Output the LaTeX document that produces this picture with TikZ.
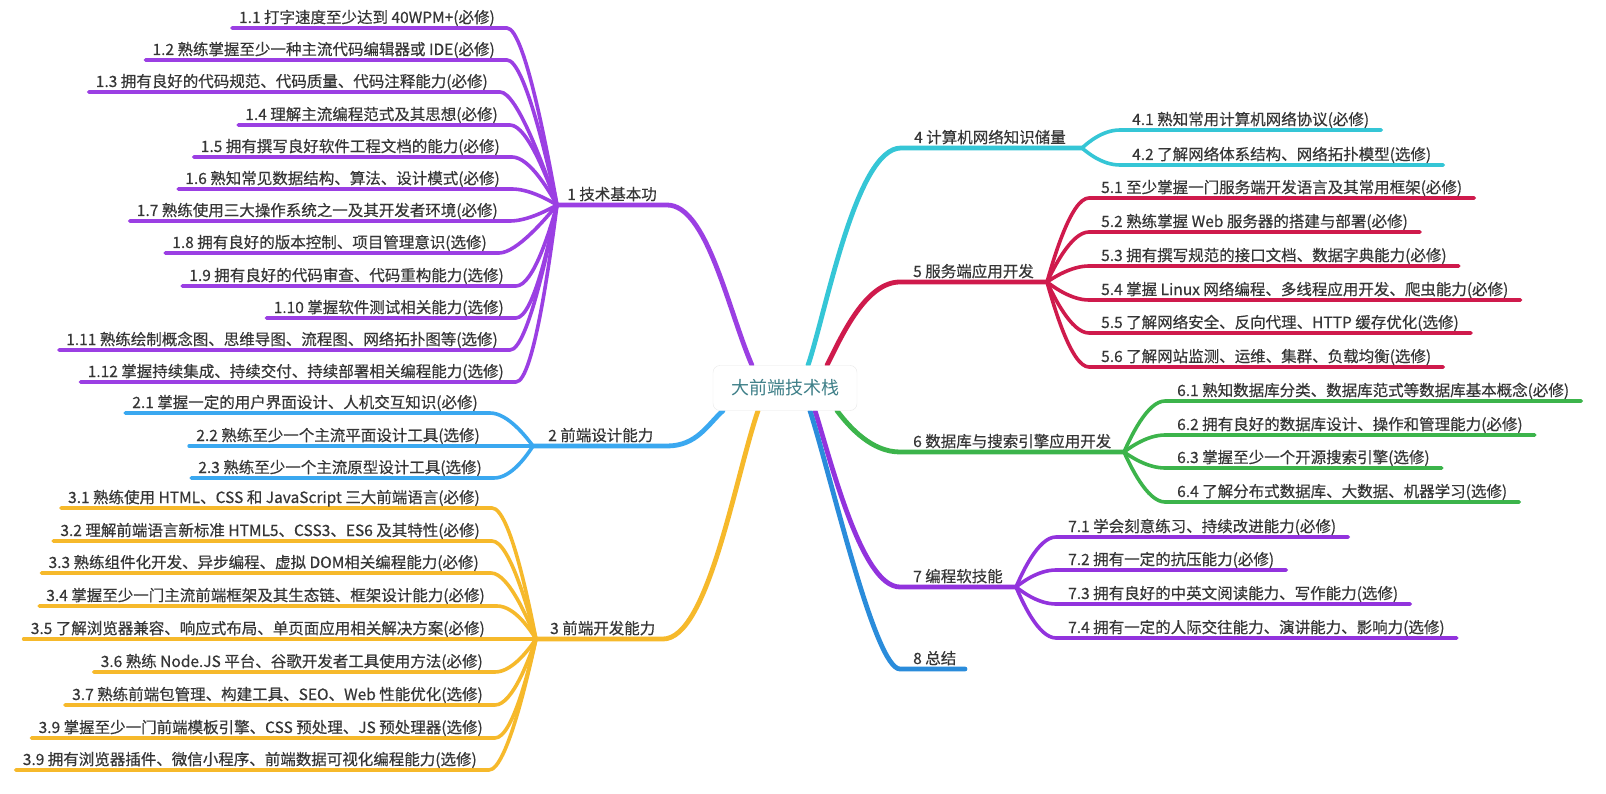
\documentclass[tikz,border=0pt]{standalone}
\usepackage{fontspec}
\setmainfont{Noto Sans CJK SC}
\newfontfamily\medf{Noto Sans CJK SC}[FakeBold=0.4]
\usetikzlibrary{calc}
\pgfdeclarelayer{bg}
\pgfsetlayers{bg,main}
\definecolor{cA}{HTML}{9B3FE3}
\definecolor{cB}{HTML}{3AA8F0}
\definecolor{cC}{HTML}{F6B92B}
\definecolor{cD}{HTML}{35C6D6}
\definecolor{cE}{HTML}{CF1A4C}
\definecolor{cF}{HTML}{3CB44B}
\definecolor{cG}{HTML}{9233DD}
\definecolor{cH}{HTML}{2A8CDB}
\definecolor{txt}{HTML}{363636}
\definecolor{ctr}{HTML}{3E7F88}
\tikzset{
  leaf/.style={inner sep=0pt, font=\medf\fontsize{15.5}{18}\selectfont, text=txt},
  brline/.style={line width=4.8pt, line cap=round, line join=round},
  lfline/.style={line width=3.6pt, line cap=round, line join=round},
}
% left leaf: name, underline y, text right x, hub, colour, text
\newcommand{\leafL}[6]{%
  \node[leaf, anchor=base east] (#1) at (#3,#2-5) {#6};
  \begin{pgfonlayer}{bg}
  \draw[lfline, #5] ($(#1.base west)+(-7,5)$) -- (#3+12,#2)
     .. controls (#3+30,#2) and ($(#4)!0.25!(#3+30,#2)$) .. (#4);
  \end{pgfonlayer}
}
% right leaf: name, underline y, text left x, hub, colour, text
\newcommand{\leafR}[6]{%
  \node[leaf, anchor=base west] (#1) at (#3,#2-5) {#6};
  \begin{pgfonlayer}{bg}
  \draw[lfline, #5] (#4) .. controls ($(#4)!0.25!(#3-30,#2)$) and (#3-30,#2)
     .. (#3-12,#2) -- ($(#1.base east)+(12,5)$);
  \end{pgfonlayer}
}
\begin{document}
\begin{tikzpicture}[x=1pt,y=-1pt]
\begin{pgfonlayer}{bg}
\fill[white] (0,0) rectangle (1606,794);
\end{pgfonlayer}
\useasboundingbox (0,0) rectangle (1606,794);

% centre
\node[draw=black!9, fill=white, rounded corners=7pt, minimum width=144pt,
      minimum height=45pt, inner sep=0pt, font=\fontsize{18}{20}\selectfont,
      text=ctr] (c) at (785,388) {大前端技术栈};
\coordinate (p1) at ($(c.north)+(-33,0)$);
\coordinate (p4) at ($(c.north)+(23,0)$);
\coordinate (p5) at ($(c.north)+(42,0)$);
\coordinate (p2) at ($(c.south)+(-62,0)$);
\coordinate (p3) at ($(c.south)+(-27,0)$);
\coordinate (p6) at ($(c.south)+(52,0)$);
\coordinate (p7) at ($(c.south)+(30,0)$);
\coordinate (p8) at ($(c.south)+(25,0)$);

% hubs and branch ends
\coordinate (h1) at (557,205); \coordinate (l1) at (667,205);
\coordinate (h2) at (533,446); \coordinate (l2) at (667,446);
\coordinate (h3) at (536,639); \coordinate (l3) at (663,639);
\coordinate (h4) at (1082,148); \coordinate (l4) at (901,148);
\coordinate (h5) at (1047,282); \coordinate (l5) at (900,282);
\coordinate (h6) at (1124,452); \coordinate (l6) at (900,452);
\coordinate (h7) at (1016,587); \coordinate (l7) at (900,587);
\coordinate (e8) at (965,669); \coordinate (l8) at (900,669);

% branch labels
\node[leaf, anchor=base west] (b1) at (567,200) {1 技术基本功};
\node[leaf, anchor=base west] (b2) at (548,441) {2 前端设计能力};
\node[leaf, anchor=base west] (b3) at (550,634) {3 前端开发能力};
\node[leaf, anchor=base west] (b4) at (914,143) {4 计算机网络知识储量};
\node[leaf, anchor=base west] (b5) at (913,277) {5 服务端应用开发};
\node[leaf, anchor=base west] (b6) at (913,447) {6 数据库与搜索引擎应用开发};
\node[leaf, anchor=base west] (b7) at (913,582) {7 编程软技能};
\node[leaf, anchor=base west] (b8) at (913,664) {8 总结};

\begin{pgfonlayer}{bg}
\draw[brline, cA] (h1) -- (l1) .. controls (707,205) and (728,310) .. (p1);
\draw[brline, cB] (h2) -- (l2) .. controls (697,446) and (708,424) .. (p2);
\draw[brline, cC] (h3) -- (l3) .. controls (708,639) and (735,478) .. (p3);
\draw[brline, cD] (h4) -- (l4) .. controls (856,148) and (826,312) .. (p4);
\draw[brline, cE] (h5) -- (l5) .. controls (866,282) and (842,335) .. (p5);
\draw[brline, cF] (h6) -- (l6) .. controls (872,452) and (850,428) .. (p6);
\draw[brline, cG] (h7) -- (l7) .. controls (862,587) and (832,465) .. (p7);
\draw[brline, cH] (e8) -- (l8) .. controls (875,669) and (832,480) .. (p8);
\end{pgfonlayer}

% group 1
\leafL{a1}{28}{495}{h1}{cA}{1.1 打字速度至少达到 40WPM+(必修)}
\leafL{a2}{60}{495}{h1}{cA}{1.2 熟练掌握至少一种主流代码编辑器或 IDE(必修)}
\leafL{a3}{92}{488}{h1}{cA}{1.3 拥有良好的代码规范、代码质量、代码注释能力(必修)}
\leafL{a4}{125}{498}{h1}{cA}{1.4 理解主流编程范式及其思想(必修)}
\leafL{a5}{157}{500}{h1}{cA}{1.5 拥有撰写良好软件工程文档的能力(必修)}
\leafL{a6}{189}{500}{h1}{cA}{1.6 熟知常见数据结构、算法、设计模式(必修)}
\leafL{a7}{221}{498}{h1}{cA}{1.7 熟练使用三大操作系统之一及其开发者环境(必修)}
\leafL{a8}{253}{487}{h1}{cA}{1.8 拥有良好的版本控制、项目管理意识(选修)}
\leafL{a9}{286}{504}{h1}{cA}{1.9 拥有良好的代码审查、代码重构能力(选修)}
\leafL{a10}{318}{504}{h1}{cA}{1.10 掌握软件测试相关能力(选修)}
\leafL{a11}{350}{498}{h1}{cA}{1.11 熟练绘制概念图、思维导图、流程图、网络拓扑图等(选修)}
\leafL{a12}{382}{504}{h1}{cA}{1.12 掌握持续集成、持续交付、持续部署相关编程能力(选修)}

% group 2
\leafL{d1}{413}{478}{h2}{cB}{2.1 掌握一定的用户界面设计、人机交互知识(必修)}
\leafL{d2}{446}{480}{h2}{cB}{2.2 熟练至少一个主流平面设计工具(选修)}
\leafL{d3}{478}{482}{h2}{cB}{2.3 熟练至少一个主流原型设计工具(选修)}

% group 3
\leafL{f1}{508}{480}{h3}{cC}{3.1 熟练使用 HTML、CSS 和 JavaScript 三大前端语言(必修)}
\leafL{f2}{541}{480}{h3}{cC}{3.2 理解前端语言新标准 HTML5、CSS3、ES6 及其特性(必修)}
\leafL{f3}{573}{479}{h3}{cC}{3.3 熟练组件化开发、异步编程、虚拟 DOM相关编程能力(必修)}
\leafL{f4}{606}{485}{h3}{cC}{3.4 掌握至少一门主流前端框架及其生态链、框架设计能力(必修)}
\leafL{f5}{639}{485}{h3}{cC}{3.5 了解浏览器兼容、响应式布局、单页面应用相关解决方案(必修)}
\leafL{f6}{672}{483}{h3}{cC}{3.6 熟练 Node.JS 平台、谷歌开发者工具使用方法(必修)}
\leafL{f7}{705}{483}{h3}{cC}{3.7 熟练前端包管理、构建工具、SEO、Web 性能优化(选修)}
\leafL{f8}{738}{483}{h3}{cC}{3.9 掌握至少一门前端模板引擎、CSS 预处理、JS 预处理器(选修)}
\leafL{f9}{770}{477}{h3}{cC}{3.9 拥有浏览器插件、微信小程序、前端数据可视化编程能力(选修)}

% group 4
\leafR{g1}{130}{1132}{h4}{cD}{4.1 熟知常用计算机网络协议(必修)}
\leafR{g2}{165}{1132}{h4}{cD}{4.2 了解网络体系结构、网络拓扑模型(选修)}

% group 5
\leafR{k1}{198}{1101}{h5}{cE}{5.1 至少掌握一门服务端开发语言及其常用框架(必修)}
\leafR{k2}{232}{1101}{h5}{cE}{5.2 熟练掌握 Web 服务器的搭建与部署(必修)}
\leafR{k3}{266}{1101}{h5}{cE}{5.3 拥有撰写规范的接口文档、数据字典能力(必修)}
\leafR{k4}{300}{1101}{h5}{cE}{5.4 掌握 Linux 网络编程、多线程应用开发、爬虫能力(必修)}
\leafR{k5}{333}{1101}{h5}{cE}{5.5 了解网络安全、反向代理、HTTP 缓存优化(选修)}
\leafR{k6}{367}{1101}{h5}{cE}{5.6 了解网站监测、运维、集群、负载均衡(选修)}

% group 6
\leafR{m1}{401}{1177}{h6}{cF}{6.1 熟知数据库分类、数据库范式等数据库基本概念(必修)}
\leafR{m2}{435}{1177}{h6}{cF}{6.2 拥有良好的数据库设计、操作和管理能力(必修)}
\leafR{m3}{468}{1177}{h6}{cF}{6.3 掌握至少一个开源搜索引擎(选修)}
\leafR{m4}{502}{1177}{h6}{cF}{6.4 了解分布式数据库、大数据、机器学习(选修)}

% group 7
\leafR{n1}{537}{1068}{h7}{cG}{7.1 学会刻意练习、持续改进能力(必修)}
\leafR{n2}{570}{1068}{h7}{cG}{7.2 拥有一定的抗压能力(必修)}
\leafR{n3}{604}{1068}{h7}{cG}{7.3 拥有良好的中英文阅读能力、写作能力(选修)}
\leafR{n4}{638}{1068}{h7}{cG}{7.4 拥有一定的人际交往能力、演讲能力、影响力(选修)}
\end{tikzpicture}
\end{document}
